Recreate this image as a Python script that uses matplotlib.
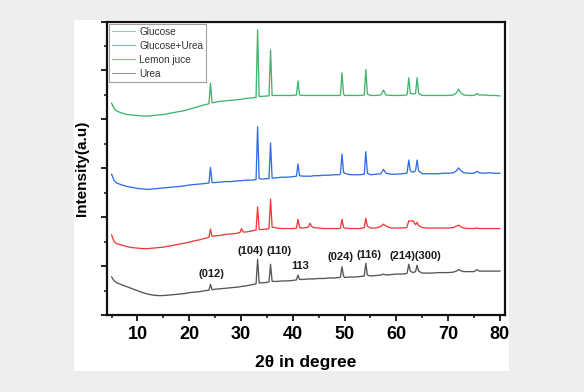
import matplotlib
matplotlib.use("Agg")
import matplotlib.pyplot as plt
from matplotlib.patches import Rectangle
from matplotlib.ticker import MultipleLocator, NullFormatter

plt.rcParams['font.family'] = ['Liberation Sans', 'DejaVu Sans']

# ---------------- data ----------------
two_theta = [5, 5.5, 6, 7, 8, 9, 10, 11, 12, 13, 14, 15, 16, 17, 18, 19, 20, 21, 22, 23,
             23.8, 24.1, 24.4, 25, 26, 27, 28, 29, 29.8, 30.1, 30.4, 31, 32, 32.9, 33.2, 33.5,
             34, 35, 35.4, 35.7, 36.0, 37, 38, 39, 40, 40.7, 41.0, 41.3, 42, 43, 43.3, 43.6,
             44, 45, 46, 47, 48, 49, 49.2, 49.5, 49.8, 50, 51, 52, 53, 53.8, 54.1, 54.4,
             55, 56, 57, 57.5, 58, 59, 60, 61, 62, 62.1, 62.4, 62.7, 63.2, 63.7, 64.0, 64.3,
             65, 66, 67, 68, 69, 70, 71, 71.6, 72.0, 72.4, 73, 74, 75, 75.6, 76, 77, 78, 79, 80]

glucose = [4.33, 4.22, 4.17, 4.13, 4.10, 4.09, 4.08, 4.07, 4.07, 4.08, 4.09, 4.10, 4.12, 4.14, 4.16, 4.18, 4.21, 4.24, 4.27, 4.30,
           4.32, 4.74, 4.34, 4.35, 4.37, 4.38, 4.39, 4.40, 4.41, 4.41, 4.42, 4.43, 4.44, 4.45, 5.83, 4.47,
           4.47, 4.48, 4.48, 5.42, 4.49, 4.49, 4.49, 4.49, 4.49, 4.50, 4.79, 4.50, 4.49, 4.49, 4.49, 4.49,
           4.49, 4.49, 4.49, 4.49, 4.49, 4.49, 4.50, 4.95, 4.52, 4.49, 4.49, 4.49, 4.49, 4.50, 5.02, 4.52,
           4.49, 4.49, 4.50, 4.60, 4.50, 4.49, 4.49, 4.49, 4.50, 4.52, 4.85, 4.53, 4.52, 4.53, 4.85, 4.53,
           4.49, 4.49, 4.49, 4.49, 4.49, 4.49, 4.50, 4.54, 4.62, 4.55, 4.50, 4.49, 4.49, 4.53, 4.50, 4.50, 4.49, 4.49, 4.48]

glucose_urea = [2.88, 2.75, 2.70, 2.66, 2.63, 2.61, 2.59, 2.58, 2.57, 2.58, 2.59, 2.60, 2.61, 2.62, 2.63, 2.64, 2.66, 2.67, 2.68, 2.69,
                2.70, 3.02, 2.71, 2.71, 2.72, 2.73, 2.73, 2.74, 2.75, 2.75, 2.75, 2.76, 2.76, 2.77, 3.85, 2.79,
                2.78, 2.79, 2.79, 3.52, 2.80, 2.81, 2.82, 2.82, 2.83, 2.84, 3.09, 2.85, 2.84, 2.84, 2.84, 2.84,
                2.85, 2.85, 2.86, 2.86, 2.87, 2.87, 2.89, 3.29, 2.92, 2.90, 2.87, 2.87, 2.87, 2.88, 3.34, 2.90,
                2.87, 2.88, 2.89, 2.98, 2.90, 2.88, 2.88, 2.89, 2.90, 2.93, 3.17, 2.95, 2.92, 2.95, 3.17, 2.95,
                2.89, 2.89, 2.89, 2.89, 2.90, 2.90, 2.91, 2.95, 3.01, 2.96, 2.91, 2.90, 2.90, 2.94, 2.91, 2.90, 2.91, 2.90, 2.90]

lemon = [1.64, 1.50, 1.46, 1.43, 1.40, 1.38, 1.37, 1.36, 1.36, 1.37, 1.38, 1.39, 1.41, 1.43, 1.45, 1.47, 1.49, 1.52, 1.54, 1.57,
         1.59, 1.76, 1.61, 1.62, 1.63, 1.65, 1.66, 1.67, 1.69, 1.77, 1.70, 1.70, 1.72, 1.74, 2.21, 1.75,
         1.75, 1.76, 1.77, 2.37, 1.80, 1.78, 1.77, 1.77, 1.77, 1.78, 1.96, 1.79, 1.78, 1.80, 1.88, 1.82,
         1.79, 1.78, 1.77, 1.77, 1.77, 1.77, 1.78, 1.96, 1.79, 1.78, 1.77, 1.77, 1.77, 1.79, 1.98, 1.82,
         1.78, 1.78, 1.81, 1.86, 1.82, 1.78, 1.78, 1.78, 1.79, 1.82, 1.93, 1.92, 1.93, 1.85, 1.90, 1.83,
         1.79, 1.78, 1.78, 1.78, 1.78, 1.78, 1.79, 1.82, 1.84, 1.81, 1.78, 1.77, 1.77, 1.78, 1.77, 1.77, 1.77, 1.77, 1.77]

urea = [0.78, 0.70, 0.66, 0.62, 0.58, 0.54, 0.50, 0.46, 0.43, 0.41, 0.40, 0.40, 0.41, 0.42, 0.43, 0.44, 0.46, 0.47, 0.48, 0.50,
        0.51, 0.63, 0.52, 0.53, 0.54, 0.55, 0.56, 0.57, 0.58, 0.59, 0.59, 0.60, 0.62, 0.64, 1.14, 0.66,
        0.66, 0.67, 0.68, 1.04, 0.69, 0.69, 0.70, 0.70, 0.71, 0.72, 0.82, 0.73, 0.73, 0.74, 0.74, 0.74,
        0.74, 0.75, 0.75, 0.76, 0.76, 0.77, 0.78, 0.99, 0.80, 0.77, 0.78, 0.78, 0.79, 0.80, 1.06, 0.82,
        0.80, 0.81, 0.82, 0.84, 0.82, 0.83, 0.84, 0.84, 0.85, 0.87, 1.04, 0.90, 0.87, 0.89, 1.02, 0.90,
        0.86, 0.86, 0.86, 0.87, 0.87, 0.87, 0.88, 0.90, 0.93, 0.91, 0.89, 0.89, 0.89, 0.93, 0.90, 0.90, 0.90, 0.90, 0.90]

series_names = ["Glucose", "Glucose+Urea", "Lemon juce", "Urea"]

peak_labels = ["(012)", "(104)", "(110)", "113", "(024)", "(116)", "(214)(300)"]
peak_label_x = [24.2, 31.8, 37.3, 41.5, 49.2, 54.8, 63.7]
peak_label_y = [0.85, 1.31, 1.31, 1.01, 1.18, 1.23, 1.21]

x_ticks = [10, 20, 30, 40, 50, 60, 70, 80]

# ---------------- figure ----------------
fig = plt.figure(figsize=(5.84, 3.92), dpi=100, facecolor="#eeeeee")
bg = Rectangle((0.126, 0.054), 0.746, 0.895, transform=fig.transFigure,
               facecolor="white", edgecolor="none", zorder=-10)
fig.add_artist(bg)

ax = fig.add_axes([0.184, 0.196, 0.680, 0.749])
ax.set_zorder(1)
ax.set_facecolor("white")

colors = ["#3fb56c", "#2f6fe3", "#f03a3a", "#555555"]
for name, ys, c in zip(series_names, [glucose, glucose_urea, lemon, urea], colors):
    ax.plot(two_theta, ys, color=c, lw=0.95, label=name)

for lab, lx, ly in zip(peak_labels, peak_label_x, peak_label_y):
    ax.text(lx, ly, lab, ha="center", va="center", fontsize=8, fontweight="bold", color="#1a1a1a")

ax.set_xlim(4.2, 80.9)
ax.set_ylim(0, 6)
ax.set_xticks(x_ticks)
ax.xaxis.set_minor_locator(MultipleLocator(5))
ax.yaxis.set_major_locator(MultipleLocator(1))
ax.yaxis.set_minor_locator(MultipleLocator(0.5))
ax.yaxis.set_major_formatter(NullFormatter())
ax.tick_params(axis="both", which="major", direction="out", length=4.5, width=1.3, color="#111111")
ax.tick_params(axis="both", which="minor", direction="out", length=2.5, width=1.1, color="#111111")
ax.tick_params(axis="x", labelsize=13, pad=3)
for lbl in ax.get_xticklabels():
    lbl.set_fontweight("bold")
for sp in ax.spines.values():
    sp.set_linewidth(1.6)
    sp.set_color("#111111")

ax.set_xlabel("2θ in degree", fontsize=12.5, fontweight="bold", labelpad=9)
ax.set_ylabel("Intensity(a.u)", fontsize=11, fontweight="bold", labelpad=5)

leg = ax.legend(loc="upper left", fontsize=7.2, frameon=True, fancybox=False,
                handlelength=2.3, handletextpad=0.4, borderaxespad=0.2,
                borderpad=0.3, labelspacing=0.4)
leg.get_frame().set_edgecolor("#888888")
leg.get_frame().set_linewidth(0.8)
for line in leg.get_lines():
    line.set_linewidth(0.8)
    line.set_alpha(0.6)
for t in leg.get_texts():
    t.set_color("#333333")

fig.savefig("out.png", dpi=100, facecolor=fig.get_facecolor())
